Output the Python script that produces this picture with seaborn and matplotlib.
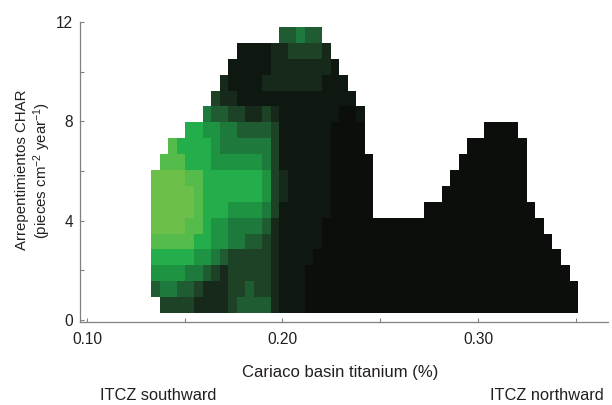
import numpy as np
import pandas as pd
import matplotlib
matplotlib.use("Agg")
import matplotlib.pyplot as plt
from matplotlib.colors import LinearSegmentedColormap
from matplotlib.ticker import MultipleLocator, FormatStrFormatter
import seaborn as sns

# --- grid of the density map ---
ti_first_edge = 0.1329      # Cariaco titanium (%), left edge of first bin
ti_bin_width = 0.004366
n_ti_bins = 50
char_first_edge = 0.28      # CHAR (pieces cm-2 yr-1), bottom edge of first bin
char_bin_width = 0.64
n_char_bins = 18

# density level of each cell, 0 (low) .. 9 (high); top row first, '.' = empty
density_rows = [
    "...............44544..............................",
    "..........11112233332.............................",
    ".........1111122222221............................",
    "........211112222222111...........................",
    ".......32211111111111111..........................",
    "......5443322321111111001.........................",
    "....776655444431111110000..............0000.......",
    "..87777655555531111110000............0000000......",
    ".8887776666665311111100000..........00000000......",
    "99998877777776321111100000.........000000000......",
    "99999877777776321111100000........0000000000......",
    "99999877766665311111100000......0000000000000.....",
    "9999887665555421111100000000000000000000000000....",
    "88888776655443211111000000000000000000000000000...",
    "777776654333332111100000000000000000000000000000..",
    "6666554323333321110000000000000000000000000000000.",
    "45544322233433211100000000000000000000000000000000",
    ".3333222234444211100000000000000000000000000000000",
]

level_colors = ["#0b0e0b", "#0f1810", "#16291a", "#1d4226", "#1f5c32",
                "#1d7a3c", "#1e9443", "#22ae4b", "#55bb4a", "#6cc04a"]

x_major_ticks = [0.10, 0.20, 0.30]
y_major_ticks = [0, 4, 8, 12]

ti_edges = ti_first_edge + ti_bin_width * np.arange(n_ti_bins + 1)
char_edges = char_first_edge + char_bin_width * np.arange(n_char_bins + 1)
ti_centers = (ti_edges[:-1] + ti_edges[1:]) / 2
char_centers = (char_edges[:-1] + char_edges[1:]) / 2

records = []
for i, row in enumerate(density_rows):
    k = n_char_bins - 1 - i
    for j, ch in enumerate(row):
        if ch != ".":
            records.append({"titanium": ti_centers[j], "char": char_centers[k],
                            "level": int(ch) + 1})
cells = pd.DataFrame(records)

sns.set_theme(style="ticks")
plt.rcParams["font.family"] = ["Liberation Sans", "DejaVu Sans"]
plt.rcParams["mathtext.fontset"] = "custom"
plt.rcParams["mathtext.rm"] = "Liberation Sans"
plt.rcParams["mathtext.it"] = "Liberation Sans:italic"

cmap = LinearSegmentedColormap.from_list("char_green", level_colors)

fig = plt.figure(figsize=(6.12, 4.05), dpi=100)
ax = fig.add_axes([80 / 612, 83 / 405, 528 / 612, 300 / 405])

sns.histplot(data=cells, x="titanium", y="char", weights="level",
             bins=[ti_edges, char_edges], cmap=cmap, vmin=1, vmax=10,
             cbar=False, ax=ax)

ax.set_xlim(0.09642, 0.3665)
ax.set_ylim(-0.08, 12)
ax.set_xlabel("")
ax.set_ylabel("")

ax.set_xticks(x_major_ticks)
ax.xaxis.set_major_formatter(FormatStrFormatter("%.2f"))
ax.xaxis.set_minor_locator(MultipleLocator(0.05))
ax.set_yticks(y_major_ticks)
ax.yaxis.set_minor_locator(MultipleLocator(2))

sns.despine(ax=ax)
for side in ["left", "bottom"]:
    ax.spines[side].set_color("#808080")
    ax.spines[side].set_linewidth(0.9)
ax.tick_params(which="both", direction="in", length=3, width=0.8,
               color="#808080", labelsize=11.2, labelcolor="#231f20")
ax.tick_params(axis="x", pad=7)
ax.tick_params(axis="y", pad=5)

fig.text(340 / 612, 1 - 372 / 405, "Cariaco basin titanium (%)",
         ha="center", va="center", fontsize=12, color="#231f20")
fig.text(34 / 612, 1 - 170 / 405,
         "Arrepentimientos CHAR\n(pieces cm$^{-2}$ year$^{-1}$)",
         rotation=90, ha="center", va="center", multialignment="center",
         fontsize=10.8, linespacing=1.2, color="#231f20")
fig.text(158 / 612, 1 - 395 / 405, "ITCZ southward", ha="center", va="center",
         fontsize=11.8, color="#231f20")
fig.text(547 / 612, 1 - 395 / 405, "ITCZ northward", ha="center", va="center",
         fontsize=11.8, color="#231f20")

fig.savefig("out.png", dpi=100)
